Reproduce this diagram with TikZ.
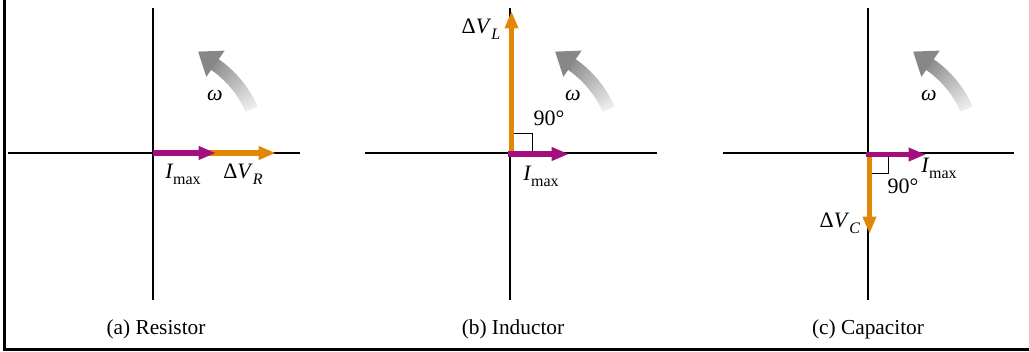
\documentclass[tikz,border=0pt]{standalone}
\usepackage{fontspec}
\setmainfont{Liberation Serif}
\usetikzlibrary{arrows.meta}
\definecolor{imag}{RGB}{163,15,125}
\definecolor{vorg}{RGB}{225,135,5}
\newcommand{\lsub}[1]{\raisebox{-0.3em}{\fontsize{12}{14}\selectfont #1}}
\newcommand{\Imx}{\textit{I}\kern-0.02em\lsub{max}}
\tikzset{
  axis/.style={line width=0.8pt, black},
  phasorI/.style={line width=3.8pt, imag, -{Triangle[length=13pt,width=9.5pt]}},
  phasorV/.style={line width=3.8pt, vorg, -{Triangle[length=13pt,width=9.5pt]}},
  rightangle/.style={line width=0.7pt, black},
  lbl/.style={anchor=base, inner sep=0pt, font=\fontsize{16.5}{19}\selectfont},
  captext/.style={anchor=base, inner sep=0pt, font=\fontsize{16}{19}\selectfont},
  rotarrow/.pic={
    \foreach \i in {0,...,31}{
      \pgfmathsetmacro\c{7+38*\i/31}
      \pgfmathsetmacro\a{24+\i}
      \pgfmathsetmacro\b{25.4+\i}
      \draw[line width=9.75pt, draw=black!\c] (\a:108) arc[start angle=\a, end angle=\b, radius=108];
    }
    \fill[black!47] (55:93) -- (55:125) -- (66:111) -- cycle;
  }
}
\begin{document}
\begin{tikzpicture}[x=0.75pt,y=0.75pt]
\useasboundingbox (0,0) rectangle (1029,-351);
\draw[line width=1.9pt] (4.5,0) -- (4.5,-349.5) -- (1029,-349.5);

% ---------- (a) Resistor ----------
\coordinate (oa) at (153,-153);
\coordinate (aW) at (8,-153);
\coordinate (aE) at (300,-153);
\coordinate (aN) at (153,-8);
\coordinate (aS) at (153,-300);
\draw[axis] (aW) -- (aE);
\draw[axis] (aN) -- (aS);
\pic at (oa) {rotarrow};
\coordinate (aV0) at (205,-153);
\coordinate (aV) at (276,-153);
\coordinate (aI) at (216,-153);
\draw[phasorV] (aV0) -- (aV);
\draw[phasorI] (oa) -- (aI);
\node[lbl] (aIl) at (183,-178) {\Imx};
\node[lbl] (aVl) at (243,-178) {Δ\textit{V}\lsub{\textit{R}}};
\node[lbl] (aw) at (215,-100) {\textit{ω}};
\node[captext] (acap) at (156,-334) {(a) Resistor};

% ---------- (b) Inductor ----------
\coordinate (ob) at (510,-153);
\coordinate (bW) at (365,-153);
\coordinate (bE) at (657,-153);
\coordinate (bN) at (510,-8);
\coordinate (bS) at (510,-300);
\draw[axis] (bW) -- (bE);
\draw[axis] (bN) -- (bS);
\pic at (ob) {rotarrow};
\coordinate (bV0) at (511.5,-155);
\coordinate (bV) at (511.5,-11);
\coordinate (bI0) at (508,-154);
\coordinate (bI) at (569,-154);
\draw[rightangle] (511.5,-153) rectangle (532,-133);
\draw[phasorV] (bV0) -- (bV);
\draw[phasorI] (bI0) -- (bI);
\node[lbl] (bVl) at (481,-33) {Δ\textit{V}\lsub{\textit{L}}};
\node[lbl] (bang) at (549,-125) {90°};
\node[lbl] (bw) at (573,-100) {\textit{ω}};
\node[lbl] (bIl) at (541,-180) {\Imx};
\node[captext] (bcap) at (513,-334) {(b) Inductor};

% ---------- (c) Capacitor ----------
\coordinate (oc) at (868,-153);
\coordinate (cW) at (723,-153);
\coordinate (cE) at (1014,-153);
\coordinate (cN) at (868,-8);
\coordinate (cS) at (868,-300);
\draw[axis] (cW) -- (cE);
\draw[axis] (cN) -- (cS);
\pic at (oc) {rotarrow};
\coordinate (cV0) at (869.5,-152);
\coordinate (cV) at (869.5,-234);
\coordinate (cI0) at (866,-154.5);
\coordinate (cI) at (926,-154.5);
\draw[rightangle] (869.5,-154.5) rectangle (888,-173);
\draw[phasorV] (cV0) -- (cV);
\draw[phasorI] (cI0) -- (cI);
\node[lbl] (cIl) at (939,-172) {\Imx};
\node[lbl] (cang) at (903,-193) {90°};
\node[lbl] (cVl) at (840,-227) {Δ\textit{V}\lsub{\textit{C}}};
\node[lbl] (cw) at (929,-100) {\textit{ω}};
\node[captext] (ccap) at (868,-334) {(c) Capacitor};
\end{tikzpicture}
\end{document}
